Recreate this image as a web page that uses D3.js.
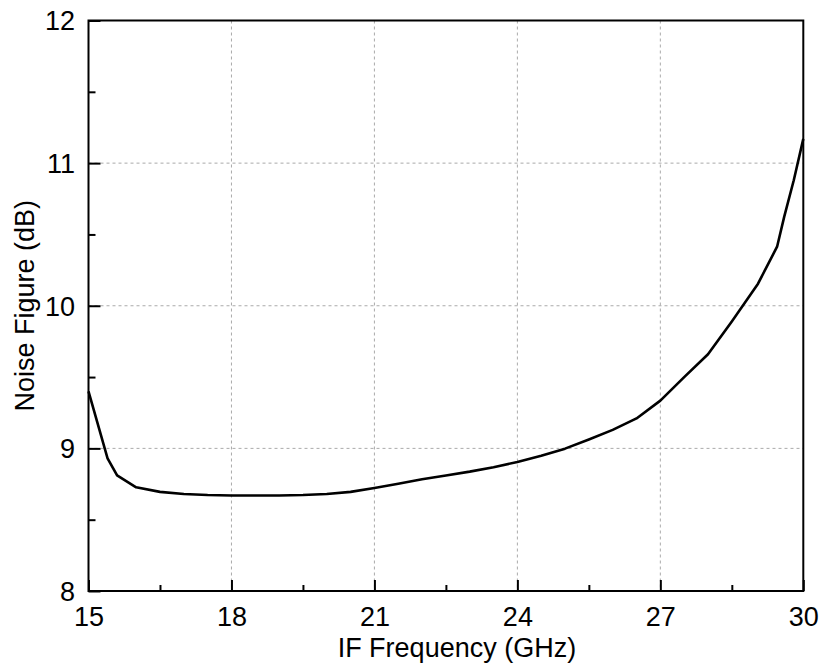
<!DOCTYPE html>
<html>
<head>
<meta charset="utf-8">
<script src="https://cdn.jsdelivr.net/npm/d3@7"></script>
<style>
  html, body { margin: 0; padding: 0; background: #fff; }
  svg { display: block; }
  text { font-family: "Liberation Sans", Arial, sans-serif; fill: #000; }
</style>
</head>
<body>
<svg id="chart" width="822" height="664"></svg>
<script>
const freq = [15, 15.4, 15.6, 16, 16.5, 17, 17.5, 18, 18.5, 19, 19.5, 20, 20.5, 21, 21.5, 22, 22.5, 23, 23.5, 24, 24.5, 25, 25.5, 26, 26.5, 27, 27.5, 28, 28.5, 29.05, 29.45, 29.6, 29.8, 30];
const noiseFigure = [9.40, 8.93, 8.81, 8.727, 8.695, 8.68, 8.673, 8.67, 8.67, 8.67, 8.673, 8.68, 8.695, 8.722, 8.752, 8.783, 8.81, 8.837, 8.868, 8.905, 8.948, 8.998, 9.062, 9.13, 9.21, 9.335, 9.50, 9.66, 9.89, 10.155, 10.414, 10.625, 10.88, 11.17];
const xTicks = [15, 18, 21, 24, 27, 30];
const xMinor = [16.5, 19.5, 22.5, 25.5, 28.5];
const yTicks = [8, 9, 10, 11, 12];
const yMinor = [8.5, 9.5, 10.5, 11.5];

const svg = d3.select("#chart");
const L = 88.5, R = 803.3, T = 20.5, B = 591;
const x = d3.scaleLinear().domain([15, 30]).range([L, R]);
const y = d3.scaleLinear().domain([8, 12]).range([B, T]);

// grid
const grid = svg.append("g");
grid.selectAll("line.gx").data(xTicks.slice(1, -1)).enter().append("line")
  .attr("x1", d => x(d)).attr("x2", d => x(d)).attr("y1", T).attr("y2", B)
  .attr("stroke", "#aaa").attr("stroke-width", 1).attr("stroke-dasharray", "3,3");
grid.selectAll("line.gy").data(yTicks.slice(1, -1)).enter().append("line")
  .attr("y1", d => y(d)).attr("y2", d => y(d)).attr("x1", L).attr("x2", R)
  .attr("stroke", "#aaa").attr("stroke-width", 1).attr("stroke-dasharray", "3,3");

// curve
const line = d3.line().x((d, i) => x(freq[i])).y(d => y(d));
svg.append("path").datum(noiseFigure)
  .attr("d", line).attr("fill", "none").attr("stroke", "#000")
  .attr("stroke-width", 2.6).attr("stroke-linejoin", "round");

// frame
svg.append("rect").attr("x", L).attr("y", T).attr("width", R - L).attr("height", B - T)
  .attr("fill", "none").attr("stroke", "#000").attr("stroke-width", 2);

// axes with inward ticks
const xAxis = svg.append("g").attr("transform", `translate(0,${B})`)
  .call(d3.axisBottom(x).tickValues(xTicks).tickSize(-11).tickPadding(16).tickFormat(d3.format("d")));
const xAxisMinor = svg.append("g").attr("transform", `translate(0,${B})`)
  .call(d3.axisBottom(x).tickValues(xMinor).tickSize(-6).tickFormat(""));
const yAxis = svg.append("g").attr("transform", `translate(${L},0)`)
  .call(d3.axisLeft(y).tickValues(yTicks).tickSize(-12).tickPadding(13.5).tickFormat(d3.format("d")));
const yAxisMinor = svg.append("g").attr("transform", `translate(${L},0)`)
  .call(d3.axisLeft(y).tickValues(yMinor).tickSize(-7).tickFormat(""));

[xAxis, xAxisMinor, yAxis, yAxisMinor].forEach(g => {
  g.select(".domain").remove();
  g.selectAll(".tick line").attr("stroke", "#000").attr("stroke-width", 2);
  g.selectAll("text").style("font-family", "'Liberation Sans', Arial, sans-serif")
    .style("font-size", "27px").attr("fill", "#000");
});
xAxis.selectAll("text").attr("dy", "0.71em");
yAxis.selectAll("text").attr("dy", "0.35em");

// axis titles
svg.append("text").attr("x", (L + R) / 2 + 11).attr("y", 657)
  .attr("text-anchor", "middle").style("font-size", "27px").text("IF Frequency (GHz)");
svg.append("text").attr("transform", `translate(34,${(T + B) / 2}) rotate(-90)`)
  .attr("text-anchor", "middle").style("font-size", "27px").text("Noise Figure (dB)");
</script>
</body>
</html>
